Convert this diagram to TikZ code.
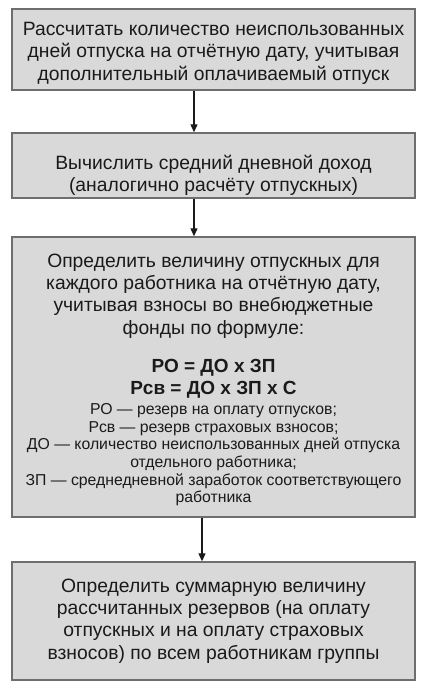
\documentclass[tikz,border=0pt]{standalone}
\usepackage{fontspec}
\setmainfont{Liberation Sans}
\usetikzlibrary{arrows.meta}
\definecolor{boxfill}{HTML}{D9D9D9}
\definecolor{boxline}{HTML}{6E6E6E}
\definecolor{txt}{HTML}{1A1A1A}
\tikzset{
  stepbox/.style={draw=boxline, line width=1.4pt, fill=boxfill, minimum width=403pt,
    inner sep=0pt, align=center, text=txt, font=\fontsize{19.3}{22.3}\selectfont},
  arr/.style={draw=txt, line width=1.2pt, -{Triangle[width=7pt,length=8pt]}}
}
\newcommand{\sm}[1]{{\fontsize{15.8}{17.7}\selectfont #1}}
\newcommand{\bigf}[1]{{\bfseries\fontsize{19}{22}\selectfont #1}}
\begin{document}
\begin{tikzpicture}[x=1pt,y=1pt]
\useasboundingbox (0,0) rectangle (428,-688);
\fill[white] (0,0) rectangle (428,-688);
\node[stepbox, minimum height=81pt] (b1) at (213.5,-49.5)
  {\rule{0pt}{21pt}Рассчитать количество неиспользованных\\
   дней отпуска на отчётную дату, учитывая\\
   дополнительный оплачиваемый отпуск};
\node[stepbox, minimum height=65pt] (b2) at (213.5,-165.5)
  {\rule{0pt}{34pt}Вычислить средний дневной доход\\
   (аналогично расчёту отпускных)};
\node[stepbox, minimum height=280pt] (b3) at (213.5,-377)
  {\rule{0pt}{19pt}Определить величину отпускных для\\
   каждого работника на отчётную дату,\\
   учитывая взносы во внебюджетные\\
   фонды по формуле:\\[16pt]
   \bigf{РО = ДО х ЗП}\\
   \bigf{Рсв = ДО х ЗП х С}\\[-2.3pt]
   \sm{РО — резерв на оплату отпусков;}\\[-4.7pt]
   \sm{Рсв — резерв страховых взносов;}\\[-4.7pt]
   \sm{ДО — количество неиспользованных дней отпуска}\\[-4.7pt]
   \sm{отдельного работника;}\\[-4.7pt]
   \sm{ЗП — среднедневной заработок соответствующего}\\[-4.7pt]
   \sm{работника}};
\node[stepbox, minimum height=118pt] (b4) at (213.5,-621)
  {Определить суммарную величину\\
   рассчитанных резервов (на оплату\\
   отпускных и на оплату страховых\\
   взносов) по всем работникам группы};
\draw[arr] ([xshift=-19.5pt]b1.south) -- ([xshift=-19.5pt]b2.north);
\draw[arr] ([xshift=-19.5pt]b2.south) -- ([xshift=-19.5pt]b3.north);
\draw[arr] ([xshift=-11.5pt]b3.south) -- ([xshift=-11.5pt]b4.north);
\end{tikzpicture}
\end{document}
